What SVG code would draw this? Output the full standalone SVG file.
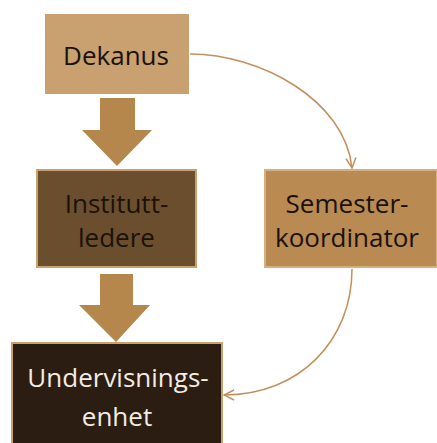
<svg xmlns="http://www.w3.org/2000/svg" width="437" height="443" viewBox="0 0 437 443">
<defs>
<style>
.t{font-family:"Open Sans","Liberation Sans",sans-serif;font-size:26px;text-anchor:middle}
.dk{fill:#1a120b}
.lt{fill:#f3ece2}
.conn{fill:none;stroke:#c0915c;stroke-width:1.5}
.big{fill:#b5874c}
</style>
<marker id="v" viewBox="0 0 12 12" refX="11" refY="6" markerWidth="12" markerHeight="12" markerUnits="userSpaceOnUse" orient="auto">
<path d="M1,1 L11,6 L1,11" fill="none" stroke="#c0915c" stroke-width="1.5"/>
</marker>
</defs>
<rect width="437" height="443" fill="#ffffff"/>
<g id="connectors">
<path class="conn" d="M190,54 C260,54 345,100 352,168" marker-end="url(#v)"/>
<path class="conn" d="M352,269 C352,340 300,395 224,395" marker-end="url(#v)"/>
<path class="big" d="M100,98 H135 V130 H152 L117,166 L82,130 H100 Z"/>
<path class="big" d="M100,274 H133 V305 H150 L116,342 L79,305 H100 Z"/>
</g>
<g id="dekanus">
<rect x="45" y="14" width="144" height="80" fill="#c9a070"/>
<text class="t dk" x="116" y="65">Dekanus</text>
</g>
<g id="instituttledere">
<rect x="37" y="170" width="159" height="97" fill="#6b4e2d" stroke="#c9a070" stroke-width="2"/>
<text class="t dk" x="116.5" y="213">Institutt-</text>
<text class="t dk" x="116.5" y="247">ledere</text>
</g>
<g id="semesterkoordinator">
<rect x="265" y="170" width="172" height="97" fill="#b98a52" stroke="#d4b080" stroke-width="2"/>
<text class="t dk" x="347" y="213">Semester-</text>
<text class="t dk" x="347" y="247">koordinator</text>
</g>
<g id="undervisningsenhet">
<rect x="12" y="343" width="210" height="102" fill="#2b1d12" stroke="#c9a070" stroke-width="2"/>
<text class="t lt" x="118" y="387">Undervisnings-</text>
<text class="t lt" x="117" y="426">enhet</text>
</g>
</svg>
